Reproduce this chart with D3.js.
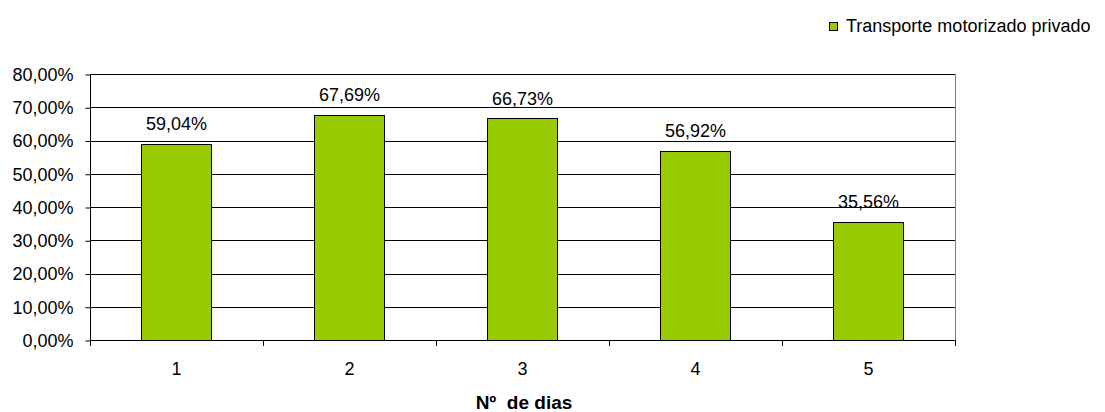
<!DOCTYPE html>
<html><head><meta charset="utf-8">
<script src="https://cdn.jsdelivr.net/npm/d3@7"></script>
<style>body{margin:0;background:#fff}text{font-family:"Liberation Sans",Arial,sans-serif}</style>
</head><body><svg id="c" width="1105" height="412"></svg>
<script>
const categories = ["1","2","3","4","5"];
const values = [59.04, 67.69, 66.73, 56.92, 35.56];
const valueLabels = ["59,04%","67,69%","66,73%","56,92%","35,56%"];
const yTicks = [0,10,20,30,40,50,60,70,80];
const seriesName = "Transporte motorizado privado";
const xTitle = "Nº  de dias";

const FS = 18;
const svg = d3.select("#c");
const m = {l:90, r:955, t:74, b:340};
const x = d3.scaleBand().domain(categories).range([m.l, m.r]).paddingInner(0.595).paddingOuter(0.2975);
const y = d3.scaleLinear().domain([0,80]).range([m.b, m.t]);
const fmt = d => d3.format(".2f")(d).replace(".", ",") + "%";

// gridlines
svg.append("g").selectAll("line").data(yTicks.slice(1)).join("line")
  .attr("x1", m.l).attr("x2", m.r).attr("y1", d=>Math.round(y(d))+0.5).attr("y2", d=>Math.round(y(d))+0.5)
  .attr("stroke", "#000").attr("stroke-width", 1);
// right border
svg.append("line").attr("x1", m.r+0.5).attr("x2", m.r+0.5).attr("y1", m.t).attr("y2", m.b).attr("stroke","#808080");

// bars
svg.append("g").selectAll("rect").data(values).join("rect")
  .attr("x", (d,i)=>Math.round(x(categories[i]))+0.5)
  .attr("width", Math.round(x.bandwidth()))
  .attr("y", d=>Math.round(y(d))+0.5)
  .attr("height", d=>Math.round(y(0)) - Math.round(y(d)))
  .attr("fill", "#99CC00").attr("stroke", "#000").attr("stroke-width", 1);

// value labels
svg.append("g").selectAll("text").data(values).join("text")
  .attr("x", (d,i)=>x(categories[i]) + x.bandwidth()/2)
  .attr("y", d=>y(d) - 13.5)
  .attr("text-anchor","middle").attr("font-size", FS).attr("fill","#000")
  .text((d,i)=>valueLabels[i]);

// y axis
const ya = svg.append("g").attr("transform", `translate(${m.l+0.5},0.5)`)
  .call(d3.axisLeft(y).tickValues(yTicks).tickFormat(fmt).tickSize(5).tickSizeOuter(0));
ya.selectAll("path,line").attr("stroke","#000");
ya.selectAll("text").attr("font-size", FS).attr("fill","#000").attr("x", -17).attr("font-family",'"Liberation Sans",Arial,sans-serif');
ya.select(".domain").attr("d", `M0,${Math.round(y(80))}V${Math.round(y(0))}`);

// x axis line
svg.append("line").attr("x1", m.l).attr("x2", m.r+1).attr("y1", Math.round(y(0))+0.5).attr("y2", Math.round(y(0))+0.5).attr("stroke","#000");
// x ticks at boundaries
const bounds = d3.range(categories.length+1).map(i => m.l + i*(m.r-m.l)/categories.length);
svg.append("g").selectAll("line").data(bounds).join("line")
  .attr("x1", d=>Math.round(d)+0.5).attr("x2", d=>Math.round(d)+0.5)
  .attr("y1", Math.round(y(0))).attr("y2", Math.round(y(0))+6).attr("stroke","#000");
// x labels
svg.append("g").selectAll("text").data(categories).join("text")
  .attr("x", d=>x(d)+x.bandwidth()/2).attr("y", 375)
  .attr("text-anchor","middle").attr("font-size",FS).attr("fill","#000").text(d=>d);
// x title
svg.append("text").attr("x", 524).attr("y", 409).attr("text-anchor","middle")
  .attr("font-size",19).attr("font-weight","bold").style("white-space","pre").text(xTitle);

// legend
svg.append("rect").attr("x", 829.5).attr("y", 22.5).attr("width", 8).attr("height", 8)
  .attr("fill","#99CC00").attr("stroke","#000");
svg.append("text").attr("x", 846).attr("y", 31.5).attr("font-size",FS).attr("fill","#000").text(seriesName);
</script></body></html>
